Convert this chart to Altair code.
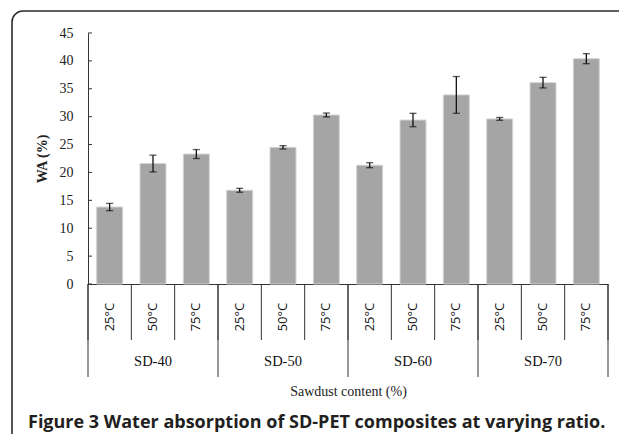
import altair as alt
import pandas as pd

groups = ["SD-40", "SD-50", "SD-60", "SD-70"]
temps = ["25°C", "50°C", "75°C"]
values = [13.8, 21.6, 23.3, 16.8, 24.5, 30.3, 21.3, 29.4, 33.9, 29.6, 36.1, 40.4]
errors = [0.65, 1.5, 0.8, 0.35, 0.3, 0.35, 0.45, 1.2, 3.3, 0.25, 0.95, 0.9]
y_ticks = [0, 5, 10, 15, 20, 25, 30, 35, 40, 45]

W, H = 520, 251

rows = []
for gi, g in enumerate(groups):
    for ti, t in enumerate(temps):
        i = gi * 3 + ti
        rows.append({"group": g, "temp": t, "idx": i, "value": values[i], "err": errors[i]})
df = pd.DataFrame(rows)

gdf = pd.DataFrame({"group": groups, "gi": list(range(len(groups)))})
bdf = pd.DataFrame({"b": list(range(len(values) + 1))})
tdf = pd.DataFrame({"v": y_ticks})
one = pd.DataFrame({"a": [0]})

xscale = alt.Scale(domain=[0, len(values)], nice=False, zero=False)
yscale = alt.Scale(domain=[0, 45], nice=False)


def X(f):
    return alt.X(f, scale=xscale)


def Y(f):
    return alt.Y(f, scale=yscale)


base = alt.Chart(df).transform_calculate(
    x0="datum.idx + 0.2", x1="datum.idx + 0.8", xc="datum.idx + 0.5",
    lo="datum.value - datum.err", hi="datum.value + datum.err",
)

border = alt.Chart(one).mark_rect(
    fill=None, stroke="#2b2b2b", strokeWidth=1.6, cornerRadius=11
).encode(x=alt.value(-76), x2=alt.value(900), y=alt.value(-22), y2=alt.value(800))

bars = base.mark_bar(color="#a5a5a5", stroke="#d4d4d4", strokeWidth=1).encode(
    x=alt.X("x0:Q", scale=xscale,
            axis=alt.Axis(labels=False, ticks=False, grid=False, domain=True,
                          domainColor="#333333", title="Sawdust content (%)",
                          titleFont="Liberation Serif", titleFontSize=14,
                          titleFontWeight="normal", titleColor="#222222",
                          titlePadding=100)),
    x2="x1:Q",
    y=alt.Y("value:Q", scale=yscale,
            axis=alt.Axis(values=y_ticks, ticks=False, grid=False, domainColor="#333333",
                          labelFont="Liberation Serif", labelFontSize=14, labelColor="#222222",
                          labelPadding=15, title="WA (%)", titleFont="Liberation Serif",
                          titleFontSize=14, titleFontWeight="bold", titleColor="#222222",
                          titlePadding=10)),
    y2=alt.datum(0),
)

err_rule = base.mark_rule(color="#111111", strokeWidth=1.3).encode(
    x=X("xc:Q"), y=Y("lo:Q"), y2="hi:Q")
cap_lo = base.mark_tick(color="#111111", orient="horizontal", size=7, thickness=1.3).encode(
    x=X("xc:Q"), y=Y("lo:Q"))
cap_hi = base.mark_tick(color="#111111", orient="horizontal", size=7, thickness=1.3).encode(
    x=X("xc:Q"), y=Y("hi:Q"))

yt = alt.Chart(tdf).mark_rule(color="#333333").encode(
    y=Y("v:Q"), x=alt.value(0), x2=alt.value(4))

sep_small = alt.Chart(bdf).mark_rule(color="#333333", strokeWidth=1).encode(
    x=X("b:Q"), y=alt.value(H), y2=alt.value(H + 56))
sep_big = alt.Chart(bdf).transform_filter("datum.b % 3 == 0").mark_rule(
    color="#333333", strokeWidth=1).encode(
    x=X("b:Q"), y=alt.value(H), y2=alt.value(H + 93))

temp_txt = base.mark_text(angle=270, font="Open Sans", fontSize=13, color="#111111",
                          baseline="middle", align="center").encode(
    x=X("xc:Q"), y=alt.value(H + 33), text="temp:N")

grp_txt = alt.Chart(gdf).transform_calculate(gx="datum.gi * 3 + 1.5").mark_text(
    font="Liberation Serif", fontSize=14.5, color="#111111", baseline="middle").encode(
    x=X("gx:Q"), y=alt.value(H + 78), text="group:N")

caption = alt.Chart(one).mark_text(
    text="Figure 3 Water absorption of SD-PET composites at varying ratio.",
    font="Open Sans", fontSize=18, fontWeight="bold", color="#231f20",
    align="left", baseline="middle").encode(x=alt.value(-60), y=alt.value(H + 139))

chart = alt.layer(bars, border, err_rule, cap_lo, cap_hi, yt, sep_small, sep_big,
                  temp_txt, grp_txt, caption).properties(
    width=W, height=H,
    autosize=alt.AutoSizeParams(type="none"),
    padding={"left": 80, "top": 25, "right": 11, "bottom": 150},
).configure_view(stroke=None).configure_axisY(
    ticks=False, grid=False, tickCount=10, domainColor="#333333",
    labelFont="Liberation Serif", labelFontSize=14, labelColor="#222222", labelPadding=15,
    titleFont="Liberation Serif", titleFontSize=14, titleFontWeight="bold",
    titleColor="#222222", titlePadding=10,
).configure_axisX(
    labels=False, ticks=False, grid=False, domainColor="#333333",
    titleFont="Liberation Serif", titleFontSize=14, titleFontWeight="normal",
    titleColor="#222222", titlePadding=100,
)

chart.save("out.html", embed_options={"renderer": "svg", "actions": False})
